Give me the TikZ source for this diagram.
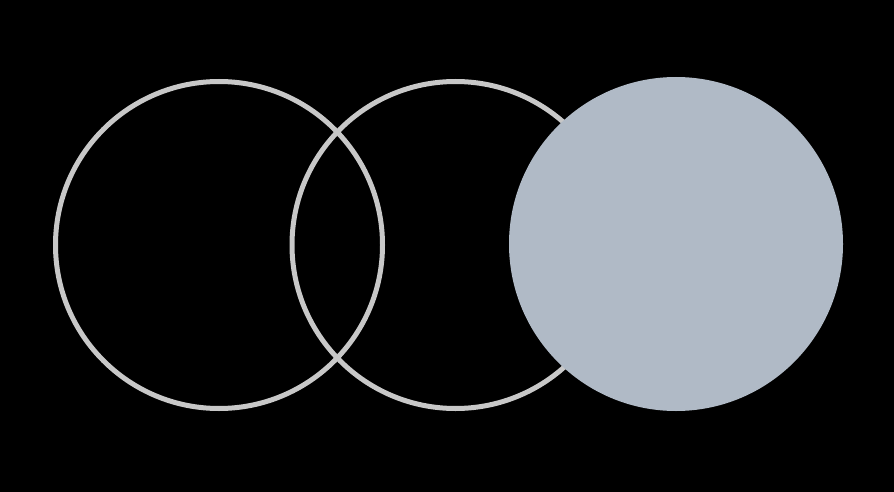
\documentclass[tikz,border=0pt]{standalone}
\definecolor{ring}{HTML}{C8C8C8}
\definecolor{disc}{HTML}{B0BAC6}
\begin{document}
\begin{tikzpicture}[x=1pt,y=-1pt,
  ringstyle/.style={draw=ring, line width=5pt, circle, minimum size=327pt, inner sep=0pt},
  discstyle/.style={fill=disc, circle, minimum size=334pt, inner sep=0pt}]
\fill[black] (0,0) rectangle (894,492);
\useasboundingbox (0,0) rectangle (894,492);
\node[ringstyle] (c1) at (219,245) {};
\node[ringstyle] (c2) at (455.5,245) {};
\node[discstyle] (c3) at (676,244) {};
\end{tikzpicture}
\end{document}
